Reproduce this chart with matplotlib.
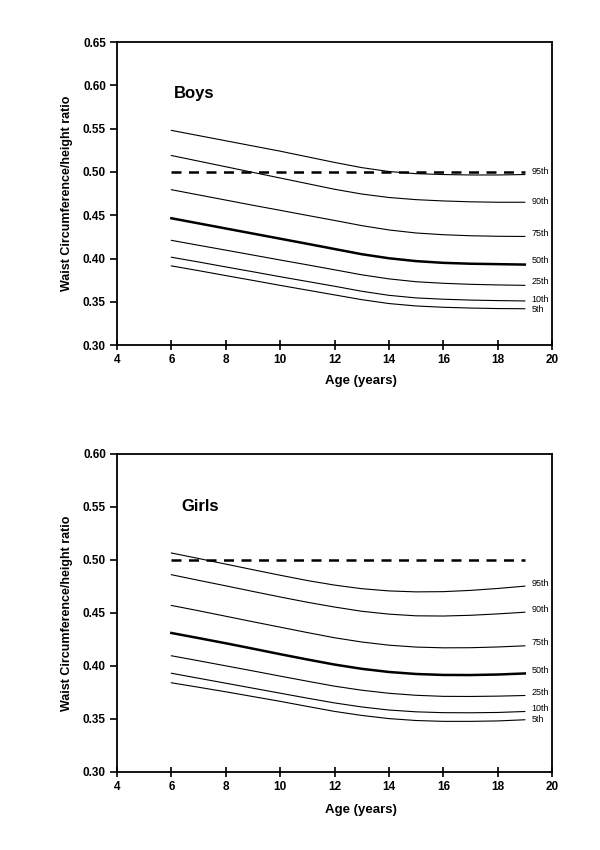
import matplotlib
matplotlib.use("Agg")
import matplotlib.pyplot as plt

plt.rcParams['font.family'] = ['Liberation Sans', 'DejaVu Sans']

ages = list(range(6, 20))
pct_labels = ["95th", "90th", "75th", "50th", "25th", "10th", "5th"]

boys_95 = [0.548, 0.542, 0.536, 0.530, 0.524, 0.5175, 0.511, 0.505, 0.5005, 0.498, 0.497, 0.4965, 0.4965, 0.497]
boys_90 = [0.519, 0.5125, 0.506, 0.4995, 0.493, 0.4865, 0.480, 0.4745, 0.4705, 0.468, 0.4665, 0.4655, 0.465, 0.465]
boys_75 = [0.4795, 0.4735, 0.4675, 0.4615, 0.4557, 0.4498, 0.444, 0.438, 0.433, 0.4295, 0.4275, 0.4263, 0.4257, 0.4255]
boys_50 = [0.4465, 0.4406, 0.4347, 0.4288, 0.4229, 0.417, 0.411, 0.405, 0.4003, 0.397, 0.395, 0.394, 0.3935, 0.393]
boys_25 = [0.421, 0.4153, 0.4097, 0.404, 0.3983, 0.3927, 0.387, 0.3812, 0.3765, 0.3732, 0.3714, 0.3702, 0.3695, 0.369]
boys_10 = [0.4015, 0.396, 0.3903, 0.3847, 0.379, 0.3735, 0.368, 0.3622, 0.3575, 0.3545, 0.353, 0.352, 0.3514, 0.351]
boys_5 = [0.3915, 0.386, 0.3803, 0.3747, 0.369, 0.3635, 0.358, 0.3525, 0.348, 0.3452, 0.3437, 0.3428, 0.3422, 0.342]

girls_95 = [0.5065, 0.5013, 0.496, 0.4907, 0.4855, 0.4805, 0.4762, 0.4728, 0.4707, 0.4698, 0.470, 0.4712, 0.473, 0.4752]
girls_90 = [0.486, 0.4807, 0.4755, 0.4702, 0.465, 0.460, 0.4555, 0.4515, 0.4488, 0.4472, 0.447, 0.4477, 0.449, 0.4506]
girls_75 = [0.457, 0.452, 0.4468, 0.4416, 0.4365, 0.4314, 0.4265, 0.4225, 0.4195, 0.4177, 0.417, 0.4171, 0.4178, 0.4189]
girls_50 = [0.431, 0.4262, 0.4213, 0.4162, 0.411, 0.406, 0.4012, 0.3972, 0.3942, 0.3923, 0.3914, 0.3913, 0.3918, 0.3928]
girls_25 = [0.4095, 0.4048, 0.400, 0.3952, 0.3903, 0.3855, 0.3808, 0.377, 0.3741, 0.3722, 0.3712, 0.3711, 0.3714, 0.372]
girls_10 = [0.393, 0.3883, 0.3836, 0.3789, 0.3742, 0.3695, 0.365, 0.3612, 0.3583, 0.3566, 0.3558, 0.3557, 0.356, 0.3569]
girls_5 = [0.384, 0.3798, 0.3755, 0.371, 0.3665, 0.3617, 0.357, 0.3532, 0.3502, 0.3484, 0.3476, 0.3476, 0.348, 0.3491]

cutoff = 0.50
cutoff_ages = [6, 19]

boys_series = [boys_95, boys_90, boys_75, boys_50, boys_25, boys_10, boys_5]
girls_series = [girls_95, girls_90, girls_75, girls_50, girls_25, girls_10, girls_5]

fig = plt.figure(figsize=(6, 8.5), dpi=100)
ax1 = fig.add_axes([0.195, 0.594, 0.725, 0.3565])
ax2 = fig.add_axes([0.195, 0.092, 0.725, 0.374])


def draw(ax, series, title, ylim, label_offsets, title_pos):
    ax.plot(cutoff_ages, [cutoff, cutoff], color='black', lw=1.8, ls=(0, (4, 3)))
    for name, vals, off in zip(pct_labels, series, label_offsets):
        lw = 1.8 if name == "50th" else 0.8
        ax.plot(ages, vals, color='black', lw=lw, solid_joinstyle='round')
        ax.text(19.25, vals[-1] + off, name, fontsize=6.5, va='center', ha='left')
    ax.set_xlim(4, 20)
    ax.set_ylim(*ylim)
    ax.set_xticks(range(4, 21, 2))
    n = int(round((ylim[1] - ylim[0]) / 0.05))
    ax.set_yticks([round(ylim[0] + 0.05 * i, 2) for i in range(n + 1)])
    ax.yaxis.set_major_formatter(matplotlib.ticker.FormatStrFormatter('%.2f'))
    ax.tick_params(axis='x', direction='inout', length=7, width=1.2, labelsize=8.5, pad=3)
    ax.tick_params(axis='y', direction='out', length=5, width=1.2, labelsize=8.5, pad=3)
    for lab in ax.get_xticklabels() + ax.get_yticklabels():
        lab.set_fontweight('bold')
    for s in ax.spines.values():
        s.set_linewidth(1.3)
    ax.set_ylabel('Waist Circumference/height ratio', fontsize=9, fontweight='bold', labelpad=7)
    ax.set_xlabel('Age (years)', fontsize=9.5, fontweight='bold', labelpad=10)
    ax.xaxis.set_label_coords(0.56, -0.1)
    ax.text(title_pos[0], title_pos[1], title, transform=ax.transAxes,
            fontsize=12, fontweight='bold', va='center')


draw(ax1, boys_series, 'Boys', (0.30, 0.65), [0.0035, 0.0008, 0.003, 0.0045, 0.0045, 0.002, -0.0012], (0.13, 0.83))
draw(ax2, girls_series, 'Girls', (0.30, 0.60), [0.0022, 0.003, 0.003, 0.003, 0.003, 0.0027, 0.0003], (0.148, 0.835))

fig.savefig('out.png', dpi=100)
